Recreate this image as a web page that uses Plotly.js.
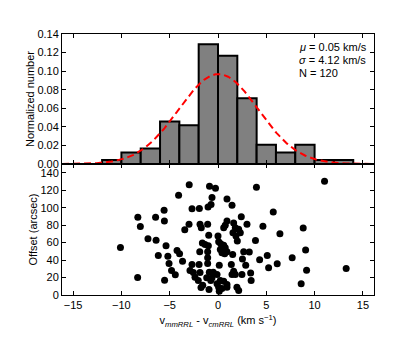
<!DOCTYPE html>
<html>
<head>
<meta charset="utf-8">
<script src="https://cdn.plot.ly/plotly-3.0.1.min.js"></script>
<style>
  html, body { margin: 0; padding: 0; background: #fff; }
  #chart { width: 415px; height: 348px; }
</style>
</head>
<body>
<div id="chart"></div>
<script>
// histogram of velocity differences (bin width 2 km/s)
const binCenters = [-11, -9, -7, -5, -3, -1, 1, 3, 5, 7, 9, 11, 13];
const normalized = [0.0042, 0.0125, 0.0167, 0.0458, 0.0417, 0.129, 0.1167, 0.0708, 0.0208, 0.0125, 0.0208, 0.0042, 0.0042];

// gaussian fit parameters shown in the legend text
const mu = 0.05;
const sigma = 4.12;
const nStars = 120;

// velocity difference (km/s) vs offset (arcsec)
const dv = [
  -10.10, -8.30, -8.04, -8.32, -7.25, -6.46, -6.41, -6.18, -5.58, -5.55,
  -5.38, -5.19, -5.07, -4.81, -5.53, -4.42, -4.24, -3.98, -4.08, -3.67,
  -3.44, -2.98, -3.00, -2.69, -1.93, -2.90, -2.55, -2.69, -1.96, -2.38,
  -2.04, -1.58, -1.76, -1.86, -1.73, -1.07, -0.96, -1.62, -1.34, -1.00,
  -1.89, -1.07, -1.07, -1.07, -1.86, -0.90, -0.49, -1.17, -0.75, -0.93,
  -0.88, -0.26, -1.03, -0.72, -0.62, 0.93, 1.45, 3.98, 2.41, 0.93,
  0.75, 0.59, 1.62, 1.79, 1.55, 3.00, 2.14, 2.31, 1.86, 2.00,
  0.00, 0.07, 0.28, 0.59, 0.75, 0.24, 0.41, 0.69, 0.93, 1.52,
  2.66, 3.24, 3.88, 2.53, 2.87, 0.13, 1.38, 1.62, 1.79, 1.45,
  2.48, 3.38, 3.43, -0.10, -0.62, 0.24, 0.59, 0.93, -0.10, 0.07,
  0.13, 0.41, 0.93, 1.96, 2.14, 11.03, 5.72, 4.65, 8.82, 6.41,
  9.07, 5.10, 7.68, 4.31, 5.24, 6.13, 9.17, 13.27, 8.61
];
const offset = [
  54.5, 89.0, 78.3, 20.0, 64.5, 89.1, 62.8, 45.3, 97.0, 84.7,
  56.4, 44.5, 36.1, 28.0, 16.8, 23.1, 51.0, 47.2, 114.3, 38.7,
  74.8, 126.3, 80.9, 98.7, 99.0, 28.0, 25.7, 34.9, 34.9, 20.3,
  16.6, 11.1, 8.5, 80.9, 77.1, 80.9, 68.3, 59.4, 57.9, 56.4,
  49.5, 49.5, 42.6, 36.1, 25.7, 26.1, 26.1, 19.7, 16.6, 6.2,
  124.6, 122.3, 100.8, 103.6, 111.6, 110.0, 102.8, 123.4, 89.5, 84.7,
  79.8, 77.1, 82.4, 77.1, 71.4, 80.9, 75.2, 71.4, 67.5, 61.7,
  67.5, 61.0, 58.7, 57.1, 54.1, 52.2, 48.4, 47.2, 49.5, 46.4,
  49.5, 49.3, 62.5, 41.3, 34.1, 34.1, 34.9, 27.2, 23.4, 23.4,
  23.4, 25.2, 16.6, 23.4, 19.7, 16.6, 15.7, 12.0, 12.8, 8.9,
  4.3, 7.4, 8.9, 8.9, 5.1, 130.3, 95.1, 78.6, 76.7, 70.2,
  51.4, 45.3, 42.6, 40.3, 31.1, 35.7, 28.4, 30.3, 12.8
];

const xRange = [-16.15, 16.15];

// model curve
const gx = [], gy = [];
for (let v = xRange[0]; v <= xRange[1] + 1e-9; v += 0.1) {
  gx.push(v);
  gy.push(Math.exp(-0.5 * Math.pow((v - mu) / sigma, 2)) / (sigma * Math.sqrt(2 * Math.PI)));
}

const font = { family: 'Liberation Sans, Arial, sans-serif', size: 11, color: '#000' };

const data = [
  {
    type: 'bar',
    x: binCenters,
    y: normalized,
    width: 2,
    marker: { color: '#808080', line: { color: '#000', width: 2 } },
    xaxis: 'x', yaxis: 'y',
    hoverinfo: 'skip'
  },
  {
    type: 'scatter',
    mode: 'lines',
    x: gx,
    y: gy,
    line: { color: '#ff0000', width: 2, dash: '7px,4px' },
    xaxis: 'x', yaxis: 'y',
    hoverinfo: 'skip'
  },
  {
    type: 'scatter',
    mode: 'markers',
    x: dv,
    y: offset,
    marker: { color: '#000', size: 7 },
    xaxis: 'x2', yaxis: 'y2',
    hoverinfo: 'skip'
  }
];

const axisBase = {
  showline: true,
  linecolor: '#000',
  linewidth: 1,
  mirror: 'ticks',
  ticks: 'inside',
  ticklen: 4,
  tickwidth: 1,
  tickcolor: '#000',
  showgrid: false,
  zeroline: false,
  tickfont: font
};

const split = 131 / 261;

const layout = {
  width: 415,
  height: 348,
  margin: { l: 62, r: 41, t: 34, b: 53 },
  paper_bgcolor: '#fff',
  plot_bgcolor: '#fff',
  showlegend: false,
  font: font,
  bargap: 0,
  xaxis: Object.assign({}, axisBase, {
    anchor: 'y', domain: [0, 1], range: xRange, dtick: 5, tick0: 0,
    showticklabels: false
  }),
  yaxis: Object.assign({}, axisBase, {
    anchor: 'x', domain: [split, 1], range: [0, 0.14], dtick: 0.02, tick0: 0,
    tickformat: '.2f',
    title: { text: 'Normalized number', font: font, standoff: 0 }
  }),
  xaxis2: Object.assign({}, axisBase, {
    anchor: 'y2', domain: [0, 1], range: xRange, dtick: 5, tick0: 0,
    title: {
      text: 'v<sub><i>mmRRL</i></sub> - v<sub><i>cmRRL</i></sub> (km s<sup>\u22121</sup>)',
      font: font, standoff: 6
    }
  }),
  yaxis2: Object.assign({}, axisBase, {
    anchor: 'x2', domain: [0, split], range: [0, 150], dtick: 20, tick0: 0,
    title: { text: 'Offset (arcsec)', font: font, standoff: 0 }
  }),
  annotations: [
    { text: '<i>\u03bc</i> = ' + mu.toFixed(2) + ' km/s', y: 0.1263 },
    { text: '<i>\u03c3</i> = ' + sigma.toFixed(2) + ' km/s', y: 0.112 },
    { text: 'N = ' + nStars, y: 0.0983 }
  ].map(a => ({
    text: a.text, x: 8.14, y: a.y, xref: 'x', yref: 'y',
    xanchor: 'left', yanchor: 'middle', showarrow: false, font: font
  }))
};

Plotly.newPlot('chart', data, layout, { staticPlot: true, displayModeBar: false });
</script>
</body>
</html>
